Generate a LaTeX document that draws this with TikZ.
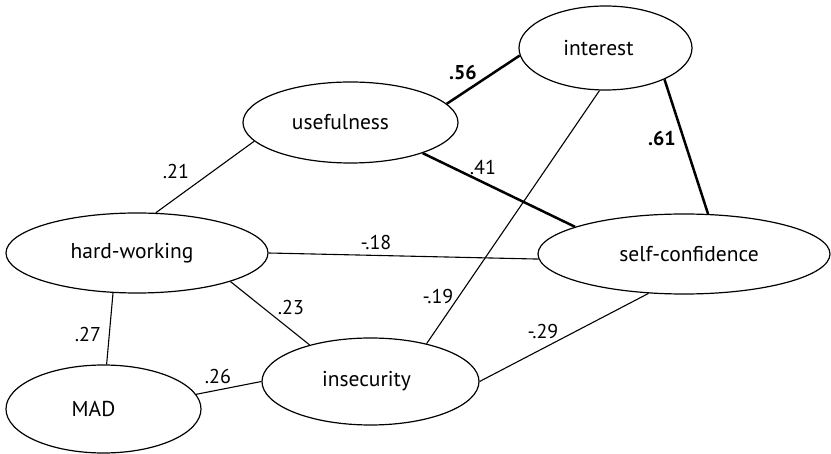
\documentclass[tikz,border=0pt]{standalone}
\usepackage{fontspec}
\setmainfont{PT Sans}
\usetikzlibrary{shapes.geometric}
\begin{document}
\begin{tikzpicture}[x=1pt,y=-1pt,
  var/.style={draw,ellipse,line width=1.2pt,inner sep=0pt,font=\fontsize{21.5}{24}\selectfont},
  lbl/.style={inner sep=0pt,font=\fontsize{20}{24}\selectfont},
  blbl/.style={lbl,font=\fontsize{20}{24}\selectfont\bfseries},
  thin/.style={line width=1.1pt},
  thick2/.style={line width=2.5pt}]
\useasboundingbox (0,0) rectangle (831,454);
\node[var,minimum width=173pt,minimum height=84pt] (I) at (605.5,48) {\kern-14pt interest};
\node[var,minimum width=215pt,minimum height=81pt] (U) at (350.5,122.5) {\kern-20pt usefulness};
\node[var,minimum width=262pt,minimum height=80pt] (H) at (137,253) {\kern-10pt hard-working};
\node[var,minimum width=292pt,minimum height=80pt] (S) at (684,254) {self-confidence\kern-10pt};
\node[var,minimum width=195pt,minimum height=88pt] (M) at (103.5,409) {\kern-20pt MAD};
\node[var,minimum width=217pt,minimum height=87pt] (N) at (370.5,381.5) {\kern-8pt insecurity};

\draw[thin] (U.191.3) -- (H.65.8);
\draw[thick2] (U.11.7) -- (I.185.9);
\draw[thick2] (U.-23.1) -- (S.166.7);
\draw[thick2] (I.-28.3) -- (S.59);
\draw[thin] (I.262.2) -- (N.34.3);
\draw[thin] (H.-0.4) -- (S.182);
\draw[thin] (H.-17.9) -- (N.149.7);
\draw[thin] (H.239) -- (M.86.7);
\draw[thin] (M.9.9) -- (N.180.8);
\draw[thin] (N.-0.3) -- (S.228.9);

\node[lbl] (l21) at (176,172) {.21};
\node[blbl] (l56) at (463,73) {.56};
\node[lbl] (l41) at (483,168) {.41};
\node[blbl] (l61) at (662,139) {.61};
\node[lbl] (l19) at (438,297) {-.19};
\node[lbl] (l18) at (376,243) {-.18};
\node[lbl] (l23) at (291,308) {.23};
\node[lbl] (l27) at (88,335) {.27};
\node[lbl] (l26) at (218,377) {.26};
\node[lbl] (l29) at (543,332) {-.29};
\end{tikzpicture}
\end{document}
